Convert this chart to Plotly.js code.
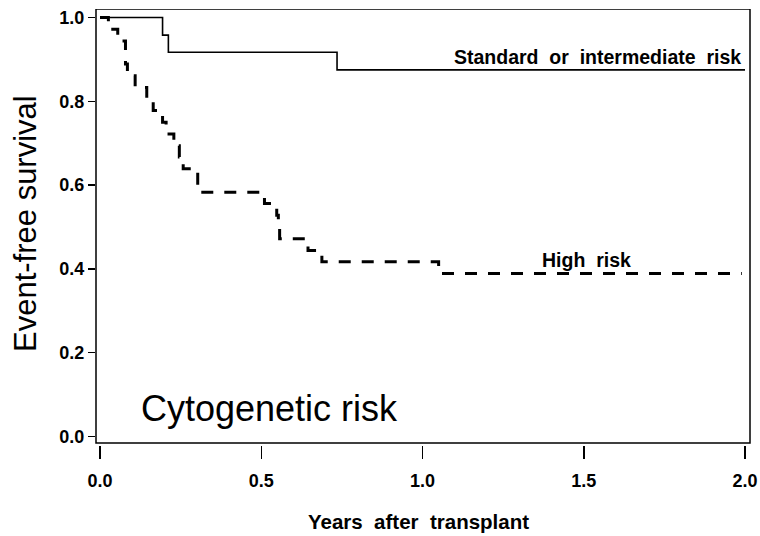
<!DOCTYPE html>
<html>
<head>
<meta charset="utf-8">
<script src="https://cdn.plot.ly/plotly-3.0.1.min.js"></script>
<style>html,body{margin:0;padding:0;background:#fff;}#chart{width:760px;height:536px;}</style>
</head>
<body>
<div id="chart"></div>
<script>
// Kaplan-Meier step data
const stdTime = [0, 0.194, 0.212, 0.735, 2.0];
const stdSurv = [1.0, 0.958, 0.917, 0.875, 0.875];

const highTime = [0, 0.026, 0.055, 0.079, 0.085, 0.109, 0.145, 0.165, 0.194, 0.205, 0.229, 0.246, 0.258, 0.303, 0.51, 0.548, 0.553, 0.557, 0.645, 0.688, 1.05, 1.99];
const highSurv = [1.0, 0.972, 0.944, 0.889, 0.861, 0.833, 0.806, 0.778, 0.75, 0.722, 0.694, 0.667, 0.639, 0.583, 0.556, 0.528, 0.5, 0.472, 0.444, 0.417, 0.389, 0.389];

const xTickVals = [0, 0.5, 1.0, 1.5, 2.0];
const xTickText = ['0.0', '0.5', '1.0', '1.5', '2.0'];
const yTickVals = [0, 0.2, 0.4, 0.6, 0.8, 1.0];
const yTickText = ['0.0', '0.2', '0.4', '0.6', '0.8', '1.0'];

const labelStd = 'Standard&nbsp; or&nbsp; intermediate&nbsp; risk';
const labelHigh = 'High&nbsp; risk';
const panelLabel = 'Cytogenetic risk';
const yTitle = 'Event-free survival';
const xTitle = 'Years&nbsp; after&nbsp; transplant';

const FONT = 'Liberation Sans, Arial, Helvetica, sans-serif';

const traces = [
  {x: stdTime, y: stdSurv, type: 'scatter', mode: 'lines', line: {shape: 'hv', color: '#000', width: 1.6}, hoverinfo: 'skip', cliponaxis: false},
  {x: highTime, y: highSurv, type: 'scatter', mode: 'lines', line: {shape: 'hv', color: '#000', width: 3, dash: '12px,11px'}, hoverinfo: 'skip', cliponaxis: false}
];

const tickFont = {family: FONT, size: 18, color: '#000', weight: 'bold'};

// plot area: x 96..750, y 9..445 ; frame bottom drawn at y=443
const layout = {
  width: 760, height: 536,
  margin: {l: 96, r: 10, t: 9, b: 91, pad: 0},
  paper_bgcolor: '#fff', plot_bgcolor: '#fff',
  showlegend: false,
  xaxis: {
    range: [-0.0124, 2.0155],
    tickvals: xTickVals, ticktext: xTickText,
    ticks: 'outside', ticklen: 13, tickwidth: 1.5, tickcolor: '#000',
    ticklabelstandoff: 6,
    showline: false, showgrid: false, zeroline: false,
    tickfont: tickFont
  },
  yaxis: {
    range: [-0.0203, 1.0203],
    tickvals: yTickVals, ticktext: yTickText,
    ticks: 'outside', ticklen: 7, tickwidth: 1.5, tickcolor: '#000',
    showline: false, showgrid: false, zeroline: false,
    tickfont: tickFont
  },
  shapes: [
    {type: 'rect', xref: 'x domain', yref: 'y', x0: 0, x1: 1, y0: -0.0155, y1: 1.0203, line: {color: '#000', width: 1.5}, fillcolor: 'rgba(0,0,0,0)', layer: 'above'}
  ],
  annotations: [
    {text: labelStd, xref: 'x', yref: 'y', x: 1.994, y: 0.906, xanchor: 'right', yanchor: 'middle', showarrow: false, font: {family: FONT, size: 19.5, color: '#000', weight: 'bold'}},
    {text: labelHigh, xref: 'x', yref: 'y', x: 1.507, y: 0.4224, xanchor: 'center', yanchor: 'middle', showarrow: false, font: {family: FONT, size: 19.5, color: '#000', weight: 'bold'}},
    {text: panelLabel, xref: 'x', yref: 'y', x: 0.527, y: 0.066, xanchor: 'center', yanchor: 'middle', showarrow: false, font: {family: FONT, size: 36, color: '#000'}},
    {text: yTitle, xref: 'paper', yref: 'y', x: -0.1086, y: 0.5095, xanchor: 'center', yanchor: 'middle', textangle: -90, showarrow: false, font: {family: FONT, size: 31, color: '#000'}},
    {text: xTitle, xref: 'paper', yref: 'paper', x: 0.4924, y: -0.1766, xanchor: 'center', yanchor: 'middle', showarrow: false, font: {family: FONT, size: 20.5, color: '#000', weight: 'bold'}}
  ]
};

Plotly.newPlot('chart', traces, layout, {staticPlot: true, displayModeBar: false});
</script>
</body>
</html>
